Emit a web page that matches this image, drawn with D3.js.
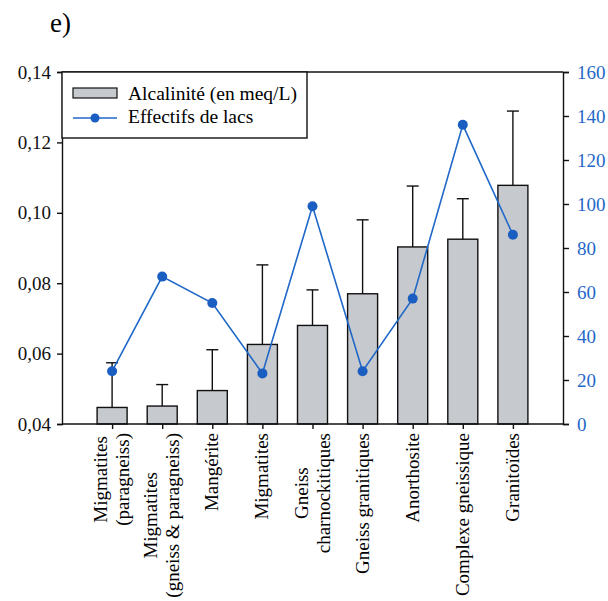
<!DOCTYPE html>
<html>
<head>
<meta charset="utf-8">
<script src="https://cdn.jsdelivr.net/npm/d3@7"></script>
<style>
  body { margin: 0; background: #fff; }
  svg text { font-family: "Liberation Serif", "Times New Roman", serif; }
</style>
</head>
<body>
<svg id="chart" width="608" height="601"></svg>
<script>
// categories (each entry is one label line)
var categories = [
  ["Migmatites", "(paragneiss)"],
  ["Migmatites", "(gneiss & paragneiss)"],
  ["Mangérite"],
  ["Migmatites"],
  ["Gneiss", "charnockitiques"],
  ["Gneiss granitiques"],
  ["Anorthosite"],
  ["Complexe gneissique"],
  ["Granitoïdes"]
];
var alcalinite = [0.0447, 0.0451, 0.0495, 0.0626, 0.0680, 0.0770, 0.0903, 0.0925, 0.1078];
var ecartType = [0.0574, 0.0512, 0.0611, 0.0852, 0.0781, 0.0980, 0.1076, 0.1040, 0.1289];
var effectifs = [24, 67, 55, 23, 99, 24, 57, 136, 86];
var leftTicks = [0.04, 0.06, 0.08, 0.10, 0.12, 0.14];
var rightTicks = [0, 20, 40, 60, 80, 100, 120, 140, 160];

var blue = "#1f68c8";
var svg = d3.select("#chart");
var pLeft = 62, pRight = 563, pTop = 72, pBottom = 424;
var fs = 19.5;

var x = d3.scalePoint()
  .domain(d3.range(categories.length))
  .range([pLeft, pRight])
  .padding(1);
var yL = d3.scaleLinear().domain([0.04, 0.14]).range([pBottom, pTop]);
var yR = d3.scaleLinear().domain([0, 160]).range([pBottom, pTop]);

svg.append("text")
  .attr("x", 50).attr("y", 32)
  .attr("font-size", 27)
  .text("e)");

// bars
svg.selectAll("rect.bar")
  .data(alcalinite)
  .enter()
  .append("rect")
  .attr("class", "bar")
  .attr("x", function(d, i){ return x(i) - 15; })
  .attr("y", function(d){ return yL(d); })
  .attr("width", 30)
  .attr("height", function(d){ return pBottom - yL(d); })
  .attr("fill", "#c6c9cd")
  .attr("stroke", "#111")
  .attr("stroke-width", 1.4);

// upper error bars
var err = svg.selectAll("g.err")
  .data(ecartType)
  .enter()
  .append("g")
  .attr("class", "err")
  .attr("stroke", "#111")
  .attr("stroke-width", 1.4);
err.append("line")
  .attr("x1", function(d, i){ return x(i); })
  .attr("x2", function(d, i){ return x(i); })
  .attr("y1", function(d, i){ return yL(alcalinite[i]); })
  .attr("y2", function(d){ return yL(d); });
err.append("line")
  .attr("x1", function(d, i){ return x(i) - 6; })
  .attr("x2", function(d, i){ return x(i) + 6; })
  .attr("y1", function(d){ return yL(d); })
  .attr("y2", function(d){ return yL(d); });

// axes
var axL = svg.append("g")
  .attr("transform", "translate(" + pLeft + ",0)")
  .call(d3.axisLeft(yL).tickValues(leftTicks).tickSize(5).tickPadding(6)
    .tickFormat(function(d){ return d3.format(".2f")(d).replace(".", ","); }));
var axR = svg.append("g")
  .attr("transform", "translate(" + pRight + ",0)")
  .call(d3.axisRight(yR).tickValues(rightTicks).tickSize(6).tickPadding(8));
var axB = svg.append("g")
  .attr("transform", "translate(0," + pBottom + ")")
  .call(d3.axisBottom(x).tickSize(5).tickFormat(""));
[axL, axR, axB].forEach(function(ax){
  ax.attr("font-family", null);
  ax.select(".domain").attr("stroke", "#111").attr("stroke-width", 1.4);
  ax.selectAll(".tick line").attr("stroke", "#111").attr("stroke-width", 1.4);
  ax.selectAll("text").attr("font-size", 19).attr("fill", "#111");
});
axR.selectAll("text").attr("fill", blue);
axB.select(".domain").attr("d", "M" + pLeft + ",0H" + pRight);
svg.append("line")
  .attr("x1", pLeft).attr("x2", pRight)
  .attr("y1", pTop).attr("y2", pTop)
  .attr("stroke", "#111").attr("stroke-width", 1.4);

// category labels, rotated
var lab = svg.selectAll("g.lab")
  .data(categories)
  .enter()
  .append("g")
  .attr("class", "lab")
  .attr("transform", function(d, i){ return "translate(" + x(i) + "," + (pBottom + 9) + ") rotate(-90)"; });
lab.each(function(d){
  var g = d3.select(this);
  var n = d.length;
  var texts = g.selectAll("text")
    .data(d)
    .enter()
    .append("text")
    .attr("font-size", 19)
    .attr("text-anchor", "middle")
    .attr("y", function(t, j){ return (j - (n - 1) / 2) * 22 + 6; })
    .text(function(t){ return t; });
  var maxLen = 0;
  texts.each(function(){ maxLen = Math.max(maxLen, this.getComputedTextLength()); });
  texts.attr("x", -maxLen / 2);
});

// line series
svg.append("path")
  .datum(effectifs)
  .attr("fill", "none")
  .attr("stroke", blue)
  .attr("stroke-width", 1.6)
  .attr("d", d3.line()
    .x(function(d, i){ return x(i); })
    .y(function(d){ return yR(d); }));
svg.selectAll("circle.pt")
  .data(effectifs)
  .enter()
  .append("circle")
  .attr("class", "pt")
  .attr("cx", function(d, i){ return x(i); })
  .attr("cy", function(d){ return yR(d); })
  .attr("r", 5)
  .attr("fill", "#1a5ec2");

// legend
var leg = svg.append("g");
leg.append("rect")
  .attr("x", pLeft).attr("y", pTop)
  .attr("width", 245).attr("height", 66)
  .attr("fill", "#fff")
  .attr("stroke", "#111").attr("stroke-width", 1.4);
leg.append("rect")
  .attr("x", 73).attr("y", 88)
  .attr("width", 44).attr("height", 10)
  .attr("fill", "#c6c9cd")
  .attr("stroke", "#111").attr("stroke-width", 1.2);
leg.append("text")
  .attr("x", 128).attr("y", 100)
  .attr("font-size", fs)
  .text("Alcalinité (en meq/L)");
leg.append("line")
  .attr("x1", 73).attr("x2", 117)
  .attr("y1", 118).attr("y2", 118)
  .attr("stroke", blue).attr("stroke-width", 1.4);
leg.append("circle")
  .attr("cx", 95).attr("cy", 118).attr("r", 4.5)
  .attr("fill", "#1a5ec2");
leg.append("text")
  .attr("x", 128).attr("y", 123)
  .attr("font-size", fs)
  .text("Effectifs de lacs");
</script>
</body>
</html>
